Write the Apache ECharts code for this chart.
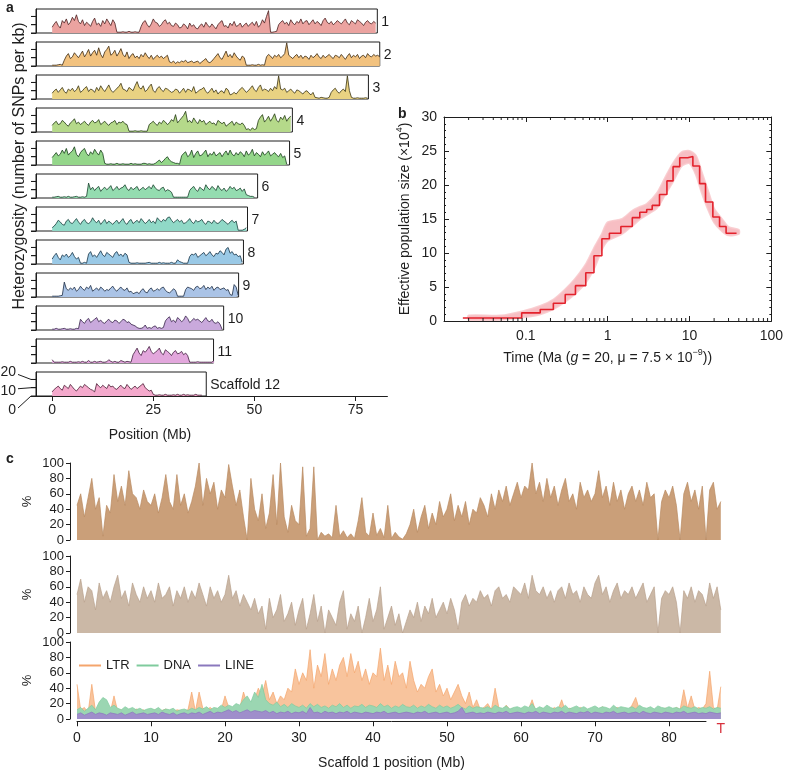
<!DOCTYPE html>
<html><head><meta charset="utf-8">
<script src="https://cdn.jsdelivr.net/npm/echarts@6/dist/echarts.min.js"></script>
<style>html,body{margin:0;padding:0;background:#fff}#c{width:786px;height:770px}</style>
</head><body><div id="c"></div>
<script>
// ---------------- Panel a: heterozygosity (SNPs per kb), 0.5 Mb windows ----------------
const hetStep = 0.5;
const chr1Het = [7,11,14,9,6,15,12,17,10,13,19,15,22,14,11,16, 9,13,11,8,14,18,10,12,8,15,11,17,13,9,16,12, 1,1,1,1.5,1,1,2,1,1,1.5,1,1, 8,13,15,10,7,11,17,13,12,8,10,14,16,11,13,9, 8,12,10,6,7,11,9,5,12,8,10,6,5,9,11,7, 13,9,7,11,8,5,10,13,15,8,9,6,12,9,14,8, 9,12,7,10,12,8,11,13,9,14,7,10,16,12,20,27, 1,1,1.5,2, 10,13,15,11,13,9,16,12,10,14,12,17,11,14,15,10, 13,16,11,14,12,9,15,18,13,11,14,10,12,15,13,11, 14,17,12,10,15,13,11,16,14,12,9,13,15,12,11,14, 12];
const chr2Het = [1,1,1,1.5,2,1, 7,12,15,9,11,16,13,10,14,18,11,15,20,12,16,19, 13,22,14,10,17,20,24,13,15,19,12,16,21,14,11,17, 9,13,15,10,12,9,14,11,16,12,9,13,8,11,13,10, 12,9,11,13, 5,4,6,3,5,4,6,5,7,4,5,6,4,5,6,3,5,7,9,5,4,6, 9,12,15,10,8,13,18,11,14,10,16,12,9,7,12,10, 1,1,1,1.5,1,1,2,1,1.5,1, 11,14,12,9,13,11,14,10,12,15,28,13,11,9,12,14, 10,13,9,12,11,8,13,10,12,15,11,9,13,10,12,14, 11,9,13,12,10,14,11,8,12,15,10,13,11,14,9,12, 13,10,15,12,11,14,12,13,11];
const chr3Het = [7,10,12,8,11,14,9,7,12,10,13,9,11,16,8,10,13,15,9,12,11,8,14,10,16,12,9,13,17,11,8,10,13,15,19,12,11,9,14,12,10,16,21,14, 12,16,9,11,15,18,10,8,13,15,11,9,13,12,10,8,9,12,11,7,10,13,8,12,11,9,15,7,9,11,12,14,9,7,10,13,8,11,6,9,10,7,13,11, 5,6,8,6,9,12,14,11,8,10,13,16,11,9,14,17,10,12,11,9,13,10,15,12, 28,12, 11,13,8,10,12,9,7,11,10,8,6,9,10,7,5,8, 2,1.5,1,2,1.5,1,1,2, 8,11,13,9,7,10,12,9, 28,10, 2,1,1,1.5,1,1,1,1.5,1];
const chr4Het = [8,11,13,9,10,14,12,9,7,11,13,16,10,12,9,11,13,10,8,12,14,11,12,15,9,11,13,10,8,11,12,14,9,12,11,13,10,9, 1,1,1,1.5,1,1,1.5,1,1,1, 9,11,13,10,8,12,10,14,12,9,11,15,13,21,11,14,17,20,25,12,14,11,17,13,10,15,12,14,9,11,13,10,11,8,14,12,10,12,7,9,11,13,8,12,10,9,11,8, 3,4,2,5,3,4, 14,18,21,12,15,19,13,17,22,14,12,18,15,20,13,17,19];
const chr5Het = [9,12,15,11,13,18,14,20,12,15,17,22,13,10,15,18,20,14,11,16,13,19,15,12,18,14, 2,1,1,1.5,1,1,2,1,1,1.5,1,1,1,2,1,1.5,1,1,1,2,2,1,1.5,1,1,2, 4,6,3,5,8,10,6,4,3,2,2,1, 11,14,16,10,12,18,9,14,17,11,12,15,18,10,14,12,16,11,13,15,10,14,17,12,18,13,11,15,12,16,14,10,17,12,14,19,11,15,13,10,16,12,14,17,11,13,15,12,10,14,9,11, 1];
const chr6Het = [1,1,1.5,2,1,1,1.5,1,2,1,1,1.5,2,1,1,1.5,1,2, 18,10,13,9,12,14,8,11,13,10,12,15,9,11,14,10,12,13,16,11,9,13,10,12,14,9,11,13,10,12,14,11,16,12,10,9,12,13,8,10,9,7, 1,1,1,1,1,1,1,1, 9,12,14,10,8,13,11,9,16,12,10,14,12,9,15,11,9,12,8,10,14,11,13,9,10,12,8,11, 4,3,2,2,1];
const chr7Het = [4,6,9,13,11,8,7,12,14,10,9,12,15,11,8,12,14,10,9,11,16,12,10,13,8,11,14,9,12,10,8,11,13,9,12,15,10,8,12,14,9,11,13,10,15,12,9,11,14,10,12,9,16,13,11,14,12,16,17,13,10,12,14,11,13,9,10,12,15,11,9,13,11,12,14,10,8,12,11,9,13,10,9,11,14,12,10,8,11,13,10,12, 1,1,1,2,4];
const chr8Het = [6,10,13,8,5,11,9,12,8,10,14,9,6,8, 1,1,2,1, 12,15,9,11,8,12,16,11,9,14,12,10,8,13,15,10,12,9,13,11, 2,1,1,1,1.5,1,1,1,1,1.5,2,1,1,1,1,2,1,1.5,1,1,1,2,1,1,5,3,2,1,1,1, 9,12,11,13,8,10,12,14,10,12,15,11,9,13,12,16,14,11,18,20,13,15,11,12,9,10, 2];
const chr9Het = [1,1,1,1,1.5,2, 18,10,8,11,9,12,7,9,13,10,8,12,10,14,7,9,11,8,12,10,7,9,8,11,13,9,7,10,12,9,8,11,6,7, 4,5,6,4,8,10,6,5,9,11,7,8,10,8,11,12,8,6,5,7,10,8, 1,1,1,1, 9,12,11,10,8,12,13,10,11,14,9,12,10,13,8,11,12,9,10,11,8,9, 3,2,15,12,2];
const chr10Het = [1,1,2,1,1,1.5,2,1,1,1.5,1,1,2,1.5, 13,10,8,12,14,9,11,13,15,10,12,9,8,11,13,10,9,12,11,8,10,13,12,9,10,7,6,5, 3,2,2,3,6,2,3,2,4,5,2,3,2,3, 11,14,16,10,12,9,15,13,10,12,17,14,9,11,14,12,13,11,9,12,15,11,10,13,9,8,10,7, 1];
const chr11Het = [4,1,1,1,1,1.5,1,1,1,2,1,1,1,1.5,1,2,1,1,3,1,1,2,1,1.5,2,1,1,1.5,4,2,1,2,1,1,3,2,1,2,1.5,1, 10,14,18,12,9,15,13,16,20,14,11,13,15,18,12,10,16,14,12,9,13,15,11,12,14,10,12,9, 1,1,1,1,1.5,1,1,1,1,1,1,1,3];
const chr12Het = [5,8,10,12,9,7,13,11,9,14,11,8,6,9,12,10,14,12,10,8,7,5,15,12,10,13,11,9,14,11,12,9,8,11,13,10,9,14,11,8,10,12,9,11,13,15,10,8,6,7, 2,1,1,1.5,1,1,2,1,1,1,1.5,1,2,1,1,2,1,1.5,1,1,1,2,1,1,1];
const chrNames = ['1','2','3','4','5','6','7','8','9','10','11','Scaffold 12'];
const chrBoxMb = [80.4,81.0,78.2,59.4,58.7,50.8,48.3,47.3,46.1,42.4,39.9,38.1];
const hetTicks = [0,10,20];
const posTicks = [0,25,50,75];

// ---------------- Panel b: PSMC ----------------
const psmcTime = [0.017,0.089,0.15,0.217,0.303,0.404,0.54,0.68,0.85,1.05,1.45,2.0,2.47,3.0,3.5,4.3,5.3,6.3,7.6,9.5,11.0,13.3,15.7,19.3,23.3,28,37.6];
const psmcNe   = [0.45,1.2,1.7,2.6,3.9,5.2,7.1,9.6,12.1,12.9,13.9,15.2,16.0,16.4,17.0,18.6,20.6,22.7,24.0,24.2,22.8,20.2,17.5,15.3,13.9,12.9,12.9];
const bootTime = [0.02,0.05,0.09,0.15,0.22,0.3,0.4,0.55,0.7,0.85,1.0,1.5,2.0,2.5,3.0,4.0,5.0,6.3,8.0,10.0,12.0,14.0,17.0,20.0,25.0,30.0,40.0];
const bootLow  = [0.2,0.2,0.5,1.0,1.8,2.8,4.0,5.8,8.0,10.5,11.8,12.8,14.0,15.0,15.6,16.6,18.5,20.5,22.8,23.2,21.5,19.0,16.3,14.5,13.2,12.6,12.8];
const bootHigh = [0.8,0.8,1.4,2.2,3.2,4.6,6.2,8.5,11.0,12.8,14.5,15.0,16.2,16.8,17.2,18.8,21.0,23.2,24.8,25.0,24.3,22.0,19.0,16.5,15.0,13.8,13.4];
const logMinorTicks = [0.02,0.03,0.04,0.05,0.06,0.07,0.08,0.09,0.2,0.3,0.4,0.5,0.6,0.7,0.8,0.9,2,3,4,5,6,7,8,9,20,30,40,50,60,70,80,90];

// ---------------- Panel c: repeat content along scaffold 1, 0.5 Mb windows ----------------
const cStep = 0.5;
const repeatTotal = [45,60,30,55,80,40,55,5,45,35, 85,50,70,45,90,60,55,40,65,50, 45,60,35,55,85,50,40,85,45,60, 35,50,70,100,45,80,60,75,40,65, 55,98,70,45,65,30,0,80,40,25, 60,15,35,85,20,100,30,10,45,25, 20,95,5,15,95,0,10,5,8,3, 45,5,12,3,8,2,25,55,10,5, 35,6,15,3,45,2,10,4,1,8, 20,40,10,30,45,15,35,20,50,30, 40,60,25,45,30,50,20,40,35,55, 45,30,60,40,65,50,70,45,60,75, 55,70,65,100,60,75,50,80,55,70, 45,65,80,50,60,40,75,55,65,50, 60,90,55,70,45,75,50,65,40,60, 70,50,65,45,75,55,60,0,50,65, 55,70,45,0,60,75,50,65,40,70, 0,65,75,40,50];
const repeatOther = [50,70,40,60,55,30,65,45,55,40, 60,75,45,55,35,65,50,40,60,45, 55,40,65,45,50,60,35,55,45,60, 40,55,45,65,50,35,60,45,55,40, 50,75,45,55,35,50,40,30,45,25, 35,5,45,20,30,50,15,25,40,10, 30,45,5,25,50,15,35,0,30,20, 10,40,55,5,25,15,35,0,20,45, 15,30,60,5,20,35,10,25,0,15, 30,20,40,15,35,25,45,20,30,40, 25,45,30,5,40,50,35,45,40,55, 45,50,35,55,60,45,50,40,60,55, 50,65,45,75,55,50,60,45,55,40, 55,60,45,65,50,55,40,60,50,45, 65,75,50,60,40,55,65,45,55,50, 60,45,55,65,40,50,60,0,45,55, 50,60,40,0,55,45,60,40,55,50, 35,65,45,60,30];
const ltrPct = [45,12,15,8,45,10,14,12,10,9, 30,10,12,8,11,9,13,10,12,8, 10,12,9,11,13,10,8,12,11,10, 12,35,10,35,14,12,15,11,13,12, 30,15,12,18,14,35,20,16,25,40, 30,50,25,35,20,30,25,40,35,65, 45,60,50,90,40,70,55,85,45,65, 50,70,80,55,85,60,75,50,65,45, 60,55,92,50,70,45,75,55,60,40, 75,50,35,45,40,55,65,35,45,30, 40,25,35,45,30,20,35,15,25,12, 15,20,12,40,15,10,18,12,14,11, 13,15,12,25,10,14,12,13,11,15, 12,25,10,14,13,11,15,12,10,13, 14,11,16,12,10,13,15,12,14,11, 18,28,12,14,11,13,10,15,12,14, 13,11,15,12,38,14,30,12,15,13, 20,62,15,12,42];
const dnaPct = [12,15,10,14,18,12,22,28,25,15, 18,14,12,16,13,15,12,14,11,13, 14,12,15,11,13,12,14,10,12,13, 11,14,12,15,13,16,12,15,14,18, 15,18,16,20,18,25,30,22,35,28, 45,25,20,18,22,16,19,15,20,17, 15,18,14,20,16,19,15,17,14,18, 16,20,15,18,14,17,16,19,15,18, 17,15,20,16,18,14,17,15,19,16, 15,18,14,17,15,19,16,14,18,15, 17,14,16,19,15,13,17,14,16,15, 14,16,13,18,15,14,17,13,15,16, 14,17,15,20,13,16,14,18,15,13, 16,14,18,13,15,17,14,16,13,15, 17,14,16,15,13,18,14,16,15,14, 16,13,18,15,14,16,13,17,15,14, 16,14,15,13,17,15,14,16,13,15, 14,16,13,15,14];
const linePct = [6,8,5,7,9,6,8,7,5,8, 7,6,8,5,7,9,6,7,8,6, 7,8,6,9,7,6,8,5,7,8, 6,8,7,9,6,8,10,7,9,8, 10,12,9,11,8,10,12,9,11,10, 9,11,8,10,7,9,8,10,7,9, 8,10,7,15,8,9,7,10,8,9, 7,9,8,10,7,9,8,7,9,8, 7,9,8,10,7,8,9,7,8,9, 8,7,9,8,10,7,8,9,7,8, 9,7,8,10,15,7,8,9,7,8, 7,9,8,7,9,8,10,7,8,9, 8,7,9,8,10,7,9,8,7,9, 8,10,7,9,8,7,9,8,10,7, 9,8,7,9,8,10,7,8,9,7, 8,9,7,10,8,7,9,8,7,9, 8,7,9,8,10,7,8,9,7,8, 7,9,8,7,8];
const teNames = ['LTR','DNA','LINE'];
const cPosTicks = [0,10,20,30,40,50,60,70,80];

// ---------------- styles ----------------
const FONT = '"Liberation Sans", Arial, Helvetica, sans-serif';
const INK = '#1e1e1e';
const hetFill = ['#eba3a0','#f2c27f','#e9d282','#b5d98a','#94d68a','#94dcb0','#90d9c7','#9ac9e6','#aac3e6','#c9a9dc','#e2a7dc','#f4a9cc'];
const hetLine = ['#4a1f1f','#3d2b12','#3a3312','#223a12','#163d1a','#17402b','#163f3c','#173447','#1c2c44','#37234a','#401d3d','#4a1a33'];

const hetAll = [chr1Het,chr2Het,chr3Het,chr4Het,chr5Het,chr6Het,chr7Het,chr8Het,chr9Het,chr10Het,chr11Het,chr12Het];
const A_LEFT = 36, A_TOP = 9, A_STEP = 33, A_H = 24, A_PX = 4.044, A_XMIN = -4, A_AXMAX = 82.9, A_YMAX = 29;

const grids = [], xAxes = [], yAxes = [], series = [];
const addGrid = g => { grids.push(g); return grids.length - 1; };
const addX = a => { xAxes.push(a); return xAxes.length - 1; };
const addY = a => { yAxes.push(a); return yAxes.length - 1; };

const hetGridIdx = [];
hetAll.forEach((arr, i) => {
  const gi = addGrid({left: A_LEFT, top: A_TOP + A_STEP * i, width: (chrBoxMb[i] - A_XMIN) * A_PX, height: A_H,
    show: true, borderColor: INK, borderWidth: 1, backgroundColor: 'transparent'});
  hetGridIdx.push(gi);
  const xi = addX({type: 'value', gridIndex: gi, min: A_XMIN, max: chrBoxMb[i], show: false});
  const yi = addY({type: 'value', gridIndex: gi, min: 0, max: A_YMAX, position: 'left',
    axisLine: {show: true, onZero: false, lineStyle: {color: INK, width: 1}}, axisLabel: {show: false}, splitLine: {show: false},
    axisTick: {show: true, customValues: hetTicks, length: 5, lineStyle: {color: INK, width: 1}}});
  series.push({type: 'line', xAxisIndex: xi, yAxisIndex: yi, data: arr.map((v, k) => [k * hetStep, v]),
    symbol: 'none', lineStyle: {color: hetLine[i], width: 0.8}, areaStyle: {color: hetFill[i], opacity: 1}, z: 3});
  // outward y ticks at the box's left edge (drawn through the box's own scale)
  series.push({type: 'custom', xAxisIndex: xi, yAxisIndex: yi, clip: false, z: 6,
    data: hetTicks.map(v => [A_XMIN, v]), encode: {x: 0, y: 1},
    renderItem: (params, api) => {
      const p = api.coord([api.value(0), api.value(1)]);
      return {type: 'line', shape: {x1: p[0] - 5, y1: p[1], x2: p[0], y2: p[1]}, style: {stroke: INK, lineWidth: 1}};
    }});
});
{
  const gi = addGrid({left: A_LEFT, top: A_TOP + A_STEP * 11 + A_H - 1, height: 1, width: (A_AXMAX - A_XMIN) * A_PX});
  addX({type: 'value', gridIndex: gi, min: A_XMIN, max: A_AXMAX,
    axisLine: {show: true, onZero: false, lineStyle: {color: INK, width: 1}},
    axisTick: {show: true, customValues: posTicks, length: 5, lineStyle: {color: INK}},
    axisLabel: {show: true, customValues: posTicks, fontSize: 14, color: INK, margin: 7, fontFamily: FONT},
    splitLine: {show: false}});
  addY({type: 'value', gridIndex: gi, show: false});
}

// ---------------- Panel b ----------------
const bGrid = addGrid({left: 444, top: 117, width: 332, height: 204});
const logLabel = v => {
  const e = Math.round(Math.log10(v));
  if (e <= -2) return '';
  return String(+Math.pow(10, e).toPrecision(3));
};
const supRich = {
  n: {fontSize: 14, color: INK, fontFamily: FONT, lineHeight: 20},
  i: {fontSize: 14, color: INK, fontFamily: FONT, fontStyle: 'italic', lineHeight: 20},
  sup: {fontSize: 9, color: INK, fontFamily: FONT, verticalAlign: 'top', lineHeight: 11}};
const bX = addX({type: 'log', logBase: 10, gridIndex: bGrid, min: 0.01, max: 100, position: 'bottom',
  axisLine: {show: true, onZero: false, lineStyle: {color: INK}},
  axisTick: {show: true, inside: true, length: 5, lineStyle: {color: INK}},
  minorTick: {show: false},
  axisLabel: {fontSize: 14, color: INK, margin: 8, formatter: logLabel, fontFamily: FONT},
  splitLine: {show: false},
  name: '{n|Time (Ma (}{i|g}{n| = 20, μ = 7.5 × 10}{sup|−9}{n|))}',
  nameLocation: 'middle', nameGap: 27,
  nameTextStyle: {fontFamily: FONT, color: INK, rich: supRich}});
addX({type: 'log', logBase: 10, gridIndex: bGrid, min: 0.01, max: 100, position: 'top',
  axisLine: {show: true, onZero: false, lineStyle: {color: INK}},
  axisTick: {show: true, inside: true, length: 5, lineStyle: {color: INK}},
  axisLabel: {show: false}, splitLine: {show: false}});
const bY = addY({type: 'value', gridIndex: bGrid, min: 0, max: 30, interval: 5, position: 'left',
  axisLine: {show: true, onZero: false, lineStyle: {color: INK}},
  axisTick: {show: true, inside: true, length: 5, lineStyle: {color: INK}},
  minorTick: {show: true, splitNumber: 5, length: 2, lineStyle: {color: INK}},
  axisLabel: {fontSize: 14, color: INK, margin: 7, fontFamily: FONT},
  splitLine: {show: false},
  name: '{n|Effective population size (×10}{sup|4}{n|)}',
  nameLocation: 'middle', nameGap: 29,
  nameTextStyle: {fontFamily: FONT, color: INK, rich: supRich}});
addY({type: 'value', gridIndex: bGrid, min: 0, max: 30, interval: 5, position: 'right',
  axisLine: {show: true, onZero: false, lineStyle: {color: INK}},
  axisTick: {show: true, inside: true, length: 5, lineStyle: {color: INK}},
  minorTick: {show: true, splitNumber: 5, length: 2, lineStyle: {color: INK}},
  axisLabel: {show: false}, splitLine: {show: false}});
series.push({type: 'custom', xAxisIndex: bX, yAxisIndex: bY, z: 2,
  data: bootTime.map((t, k) => [t, bootLow[k], bootHigh[k]]), encode: {x: 0, y: [1, 2]},
  renderItem: (params, api) => {
    if (params.dataIndex !== 0) return null;
    const up = bootTime.map((t, k) => api.coord([t, bootHigh[k]]));
    const lo = bootTime.map((t, k) => api.coord([t, bootLow[k]])).reverse();
    return {type: 'polygon', shape: {points: up.concat(lo), smooth: 0.25},
      style: {fill: '#f5aeb4', opacity: 0.8, stroke: '#f7c3c7', lineWidth: 2}};
  }});
series.push({type: 'line', xAxisIndex: bX, yAxisIndex: bY, step: 'end', symbol: 'none',
  data: psmcTime.map((t, k) => [t, psmcNe[k]]), lineStyle: {color: '#e3222c', width: 1.6}, z: 4});
series.push({type: 'custom', xAxisIndex: bX, yAxisIndex: bY, clip: false, z: 5,
  data: logMinorTicks.map(v => [v, 0]), encode: {x: 0, y: 1},
  renderItem: (params, api) => {
    const x = api.coord([api.value(0), 0])[0];
    const yb = api.coord([1, 0])[1];
    const yt = api.coord([1, 30])[1];
    return {type: 'group', children: [
      {type: 'line', shape: {x1: x, y1: yb, x2: x, y2: yb - 3}, style: {stroke: INK, lineWidth: 1}},
      {type: 'line', shape: {x1: x, y1: yt, x2: x, y2: yt + 3}, style: {stroke: INK, lineWidth: 1}}]};
  }});

// ---------------- Panel c ----------------
const C_LEFT = 77, C_PX = 7.4, C_MAX = 87, C_H = 77;
const cTops = [463, 556, 642];
const cAx = cTops.map(t => {
  const gi = addGrid({left: C_LEFT, top: t, width: C_MAX * C_PX, height: C_H});
  const xi = addX({type: 'value', gridIndex: gi, min: 0, max: C_MAX, show: false});
  const yi = addY({type: 'value', gridIndex: gi, min: 0, max: 100, interval: 20, offset: 7, position: 'left',
    axisLine: {show: true, onZero: false, lineStyle: {color: INK}},
    axisTick: {show: true, length: 4, lineStyle: {color: INK}},
    axisLabel: {fontSize: 13, color: INK, margin: 6, fontFamily: FONT},
    splitLine: {show: false},
    name: '%', nameLocation: 'middle', nameGap: 36, nameMoveOverlap: false,
    nameTextStyle: {fontSize: 13, color: INK, fontFamily: FONT}});
  return {gi: gi, xi: xi, yi: yi};
});
const cx = arr => arr.map((v, k) => [k * cStep, v]);
series.push({type: 'line', xAxisIndex: cAx[0].xi, yAxisIndex: cAx[0].yi, data: cx(repeatTotal), symbol: 'none',
  lineStyle: {color: '#b98a60', width: 0.7}, areaStyle: {color: '#ca9f79', opacity: 1}});
series.push({type: 'line', xAxisIndex: cAx[1].xi, yAxisIndex: cAx[1].yi, data: cx(repeatOther), symbol: 'none',
  lineStyle: {color: '#b8a18c', width: 0.7}, areaStyle: {color: '#cbb8a6', opacity: 1}});
const teData = [ltrPct, dnaPct, linePct];
const teLine = ['#f4a56c', '#7fcb9d', '#8a78bd'];
const teFill = ['#f8c49d', '#9bd6b2', '#9f8ecb'];
teData.forEach((arr, j) => {
  series.push({type: 'line', name: teNames[j], xAxisIndex: cAx[2].xi, yAxisIndex: cAx[2].yi, data: cx(arr), symbol: 'none',
    itemStyle: {color: teLine[j]}, lineStyle: {color: teLine[j], width: 0.7},
    areaStyle: {color: teFill[j], opacity: 1}, z: 2 + j});
});
{
  const gi = addGrid({left: C_LEFT, top: 721, height: 1, width: 85 * C_PX});
  addX({type: 'value', gridIndex: gi, min: 0, max: 85,
    axisLine: {show: true, onZero: false, lineStyle: {color: INK}},
    axisTick: {show: true, customValues: cPosTicks, length: 5, lineStyle: {color: INK}},
    axisLabel: {show: true, customValues: cPosTicks, fontSize: 14, color: INK, margin: 10, fontFamily: FONT},
    splitLine: {show: false},
    name: 'Scaffold 1 position (Mb)', nameLocation: 'middle', nameGap: 35,
    nameTextStyle: {fontSize: 14, color: INK, fontFamily: FONT}});
  addY({type: 'value', gridIndex: gi, show: false});
}

const chart = echarts.init(document.getElementById('c'), null, {renderer: 'canvas'});
chart.setOption({
  animation: false,
  backgroundColor: '#ffffff',
  textStyle: {fontFamily: FONT},
  grid: grids, xAxis: xAxes, yAxis: yAxes, series: series,
  legend: {left: 74, top: 654, icon: 'rect', itemWidth: 22, itemHeight: 2, itemGap: 7,
    data: teNames, textStyle: {fontSize: 13, color: INK, fontFamily: FONT}}
});

// ---------------- text decorations ----------------
const g = [];
const txt = (x, y, text, opt) => Object.assign({type: 'text', x: x, y: y, silent: true,
  style: Object.assign({text: text, fill: INK, font: '14px ' + FONT, align: 'left', verticalAlign: 'middle'}, (opt && opt.style) || {})},
  (opt && opt.extra) || {});
g.push(txt(6, 8, 'a', {style: {font: 'bold 14px ' + FONT}}));
g.push(txt(398, 114, 'b', {style: {font: 'bold 14px ' + FONT}}));
g.push(txt(6, 459, 'c', {style: {font: 'bold 14px ' + FONT}}));
g.push(txt(20, 166, 'Heterozygosity (number of SNPs per kb)', {style: {align: 'center', font: '16px ' + FONT}, extra: {rotation: Math.PI / 2}}));
g.push(txt(150, 435, 'Position (Mb)', {style: {align: 'center'}}));
chrNames.forEach((nm, i) => {
  const p = chart.convertToPixel({gridIndex: hetGridIdx[i]}, [chrBoxMb[i], A_YMAX / 2]);
  g.push(txt(p[0] + 4, p[1] + 1, nm));
});
const labelDy = [14, 3, -7];
hetTicks.forEach((v, k) => {
  const p = chart.convertToPixel({gridIndex: hetGridIdx[11]}, [A_XMIN, v]);
  const tx = p[0] - 5, ty = p[1];
  const ly = ty + labelDy[k];
  g.push({type: 'line', silent: true, shape: {x1: 18, y1: ly - 2 * Math.sign(labelDy[k]), x2: tx, y2: ty}, style: {stroke: INK, lineWidth: 1}});
  g.push(txt(16, ly, String(v), {style: {align: 'right'}}));
});
const tp = chart.convertToPixel({gridIndex: cAx[2].gi}, [C_MAX, 0]);
g.push(txt(tp[0], tp[1] + 10, 'T', {style: {align: 'center', fill: '#d7303c', font: '14px ' + FONT}}));
chart.setOption({graphic: g});
</script></body></html>
